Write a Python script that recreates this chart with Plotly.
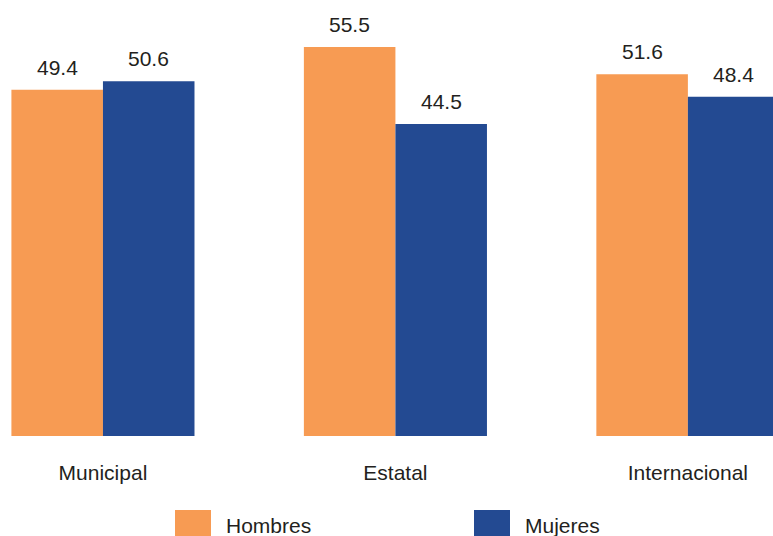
import plotly.graph_objects as go

categories = ["Municipal", "Estatal", "Internacional"]
hombres = [49.4, 55.5, 51.6]
mujeres = [50.6, 44.5, 48.4]
series_names = ["Hombres", "Mujeres"]
colors = ["#F79B53", "#234A92"]

W, H = 773, 536
L, R, T, B = 0, 0, 0, 100
ph = H - T - B
FONT = "Liberation Sans, Arial"
TXT = "#231F20"
FS = 21

fig = go.Figure()
for name, vals, col in zip(series_names, [hombres, mujeres], colors):
    fig.add_trace(go.Bar(
        x=categories, y=vals, name=name, marker=dict(color=col, line=dict(width=0)),
        showlegend=False,
    ))

bar_px = 91.5
annotations = []
for i, vals in enumerate([hombres, mujeres]):
    xs = -bar_px / 2 if i == 0 else bar_px / 2
    for c, v in zip(categories, vals):
        annotations.append(dict(x=c, y=v, xref="x", yref="y", text=f"{v:.1f}", showarrow=False,
                                xanchor="center", yanchor="bottom", xshift=xs, yshift=9,
                                font=dict(size=FS, color=TXT, family=FONT)))

def px2px(x):
    return (x - L) / (W - L - R)

def py2py(y):
    return (H - B - y) / ph

shapes = []
leg = [(175, 211, 224), (474, 510, 523)]
for (x0, x1, tx), name, col in zip(leg, series_names, colors):
    shapes.append(dict(type="rect", xref="paper", yref="paper", x0=px2px(x0), x1=px2px(x1),
                       y0=py2py(510), y1=py2py(540), fillcolor=col, line=dict(width=0), layer="above"))
    annotations.append(dict(xref="paper", yref="paper", x=px2px(tx), y=py2py(512), xanchor="left",
                            yanchor="top", text=name, showarrow=False,
                            font=dict(size=FS, color=TXT, family=FONT)))

fig.update_layout(
    width=W, height=H, margin=dict(l=L, r=R, t=T, b=B),
    paper_bgcolor="white", plot_bgcolor="white",
    barmode="group", bargap=0.374, bargroupgap=0,
    xaxis=dict(range=[-0.352, 2.291], showgrid=False, showline=False, zeroline=False,
               ticks="", ticklabelstandoff=22,
               tickfont=dict(size=FS, color=TXT, family=FONT)),
    yaxis=dict(range=[0, 62.2], visible=False),
    shapes=shapes, annotations=annotations,
)
fig.write_html("out.html", config={"displayModeBar": False})

with open("out.html", "r", encoding="utf-8") as f:
    html = f.read()
html = html.replace("<body>", '<body style="margin:0;padding:0;overflow:hidden">', 1)
with open("out.html", "w", encoding="utf-8") as f:
    f.write(html)
